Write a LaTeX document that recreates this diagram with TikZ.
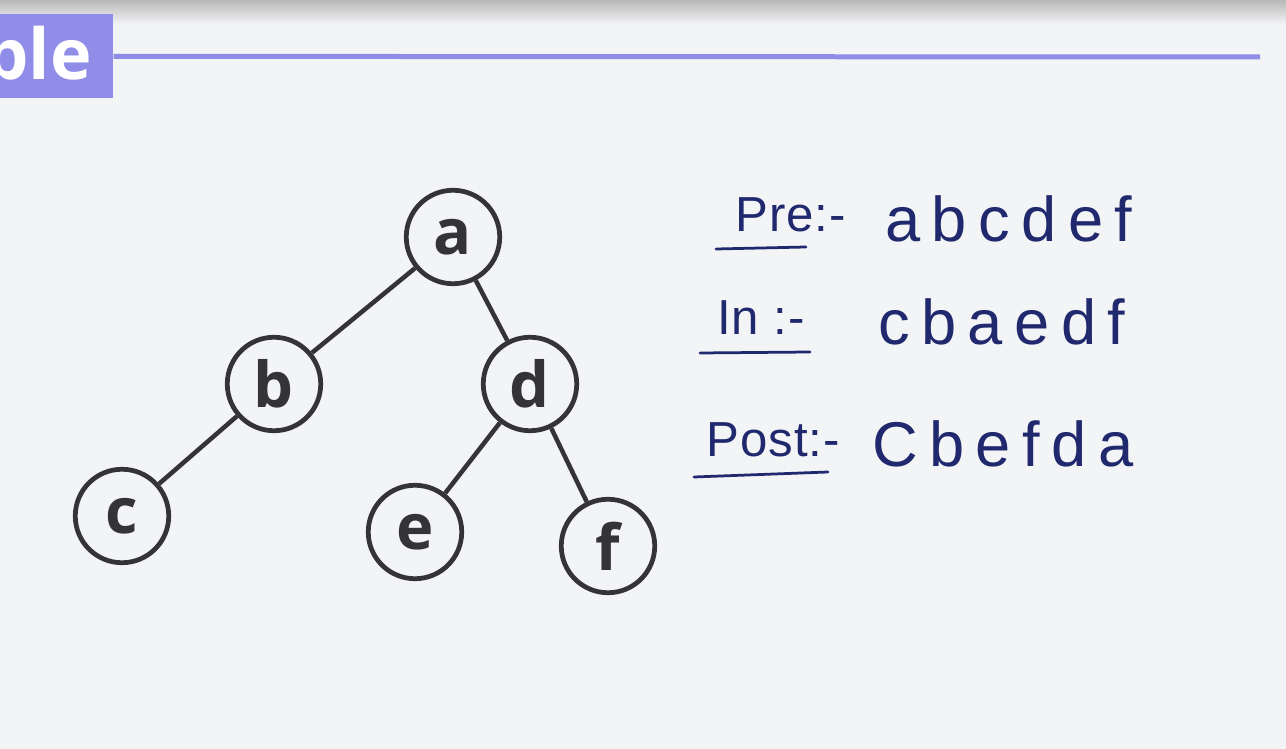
\documentclass[tikz,border=0pt]{standalone}
\usepackage{fontspec}
\usepackage{tikz}
\usetikzlibrary{positioning}

\newfontfamily\treefont{Open Sans}[Scale=1]
\newfontfamily\handfont{Liberation Sans}[LetterSpace=18]
\newfontfamily\markfont{Liberation Sans}[LetterSpace=2]
\definecolor{slidebg}{RGB}{243,244,246}
\definecolor{headpurple}{RGB}{143,141,232}
\definecolor{inkblue}{RGB}{32,40,110}
\definecolor{treegray}{RGB}{52,52,55}

\begin{document}
\begin{tikzpicture}[x=0.02cm, y=-0.02cm,
  vertex/.style={circle, draw=treegray, line width=0.095cm, minimum size=1.87cm, inner sep=0pt,
    text=treegray, font=\treefont\bfseries\fontsize{36pt}{38pt}\selectfont},
  edge/.style={draw=treegray, line width=0.09cm},
  trav/.style={anchor=base west, inner sep=0pt, text=inkblue, font=\markfont\fontsize{28pt}{30pt}\selectfont},
  seq/.style={anchor=base west, inner sep=0pt, text=inkblue, font=\handfont\fontsize{36pt}{40pt}\selectfont},
  uline/.style={draw=inkblue, line width=0.055cm, line cap=round}
]
% slide background
\useasboundingbox (0,0) rectangle (1286,749);
\fill[slidebg] (0,0) rectangle (1286,749);
\shade[top color=black!28, bottom color=slidebg] (0,0) rectangle (1286,24);

% header
\node[fill=headpurple, minimum width=2.26cm, minimum height=1.68cm, anchor=north west, inner sep=0pt] (hdr) at (0,14) {};
\node[anchor=base east, inner sep=0pt, text=white, font=\treefont\bfseries\fontsize{40pt}{42pt}\selectfont] (hdrtext) at (92,80) {ple};
\draw[headpurple, line width=0.1cm] (hdr.east) -- (1260,57);

% tree
\node[vertex] (a) at (453,237) {a};
\node[vertex] (b) at (274,384) {b};
\node[vertex] (c) at (122,516) {c};
\node[vertex] (d) at (530,384) {d};
\node[vertex] (e) at (415,532) {e};
\node[vertex] (f) at (608,546) {f};

\draw[edge] (a) -- (b);
\draw[edge] (a) -- (d);
\draw[edge] (b) -- (c);
\draw[edge] (d) -- (e);
\draw[edge] (d) -- (f);

% traversals
\node[trav] (pre) at (735,232) {Pre:-};
\node[seq] (preseq) at (885,242) {abcdef};
\node[trav] (in) at (717,335) {In :-};
\node[seq] (inseq) at (878,345) {cbaedf};
\node[trav] (post) at (706,457) {Post:-};
\node[seq] (postseq) at (872,467) {Cbefda};

\draw[uline] ([shift={(-19,17)}]pre.base west) -- (806,247);
\draw[uline] ([shift={(-17,18)}]in.base west) -- (810,352);
\draw[uline] ([shift={(-12,20)}]post.base west) -- (828,472);
\end{tikzpicture}
\end{document}
